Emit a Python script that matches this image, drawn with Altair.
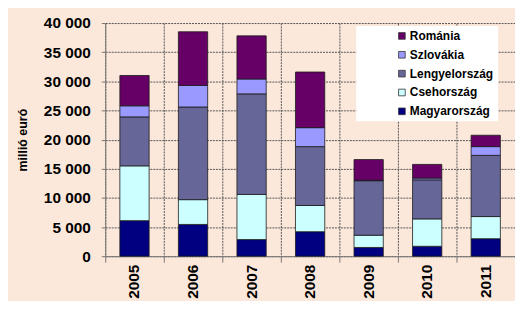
import altair as alt
import pandas as pd

years = ["2005", "2006", "2007", "2008", "2009", "2010", "2011"]
countries = ["Magyarország", "Csehország", "Lengyelország", "Szlovákia", "Románia"]
magyar = [6100, 5450, 2850, 4200, 1500, 1700, 3000]
cseh = [9400, 4250, 7750, 4500, 2100, 4700, 3800]
lengyel = [8400, 15900, 17250, 10100, 9350, 6700, 10500]
szlovak = [1900, 3700, 2550, 3250, 80, 300, 1500]
roman = [5200, 9200, 7400, 9550, 3550, 2350, 1950]
colors = ["#000080", "#CCFFFF", "#666699", "#9999FF", "#660066"]
y_ticks = [0, 5000, 10000, 15000, 20000, 25000, 30000, 35000, 40000]

series = [magyar, cseh, lengyel, szlovak, roman]
rows = []
for ci, (c, vals) in enumerate(zip(countries, series)):
    for y, v in zip(years, vals):
        rows.append({"year": y, "country": c, "value": v, "rank": ci})
df = pd.DataFrame(rows)

legend_order = countries[::-1]
legend_colors = colors[::-1]

FONT = "Liberation Sans"
BG = "#FCE8DA"

chart = alt.Chart(df).mark_bar(stroke="#1a1a1a", strokeWidth=0.8, width={"band": 0.5}).encode(
    x=alt.X("year:N", sort=years,
            scale=alt.Scale(paddingInner=0, paddingOuter=0),
            axis=alt.Axis(title=None, labelAngle=270, labelFontSize=15.5, labelFontWeight="bold",
                          labelColor="black", labelFont=FONT, bandPosition=0, labelOffset=0,
                          grid=True, gridDash=[2, 1], gridColor="#555", gridWidth=1,
                          ticks=True, tickSize=6, tickColor="#777", domainColor="#777",
                          labelPadding=2)),
    y=alt.Y("value:Q", stack="zero",
            scale=alt.Scale(domain=[0, 40000], nice=False),
            axis=alt.Axis(values=y_ticks, title="millió euró", titleFontSize=12.5,
                          titleFontWeight="bold", titleFont=FONT, titleColor="black",
                          titleAngle=270, titleX=-83, titleY=117.5, titleAlign="center",
                          titleBaseline="middle",
                          labelExpr="replace(format(datum.value, ','), regexp(',', 'g'), ' ')",
                          labelFontSize=15.5, labelFontWeight="bold", labelColor="black",
                          labelFont=FONT, labelPadding=11, tickSize=4, tickColor="#777",
                          domainColor="#777", gridDash=[2, 1], gridColor="#555", gridWidth=1)),
    color=alt.Color("country:N",
                    scale=alt.Scale(domain=legend_order, range=legend_colors),
                    legend=alt.Legend(title=None, orient="none", legendX=253, legendY=3,
                                      fillColor="white", padding=4, symbolOffset=36,
                                      symbolType="square", symbolSize=45,
                                      symbolStrokeColor="#333", symbolStrokeWidth=0.8,
                                      labelFontSize=12, labelFontWeight="bold",
                                      labelFont=FONT, labelColor="black", rowPadding=7,
                                      labelOffset=2,
                                      labelExpr="datum.label + '\u00a0\u00a0\u00a0\u00a0\u00a0\u00a0'")),
    order=alt.Order("rank:Q", sort="ascending"),
).properties(
    width=413, height=235,
    autosize=alt.AutoSizeParams(type="none"),
    padding={"left": 98, "top": 14, "right": 0, "bottom": 44},
    background=BG,
).configure_view(stroke=None)

chart.save("out.html", embed_options={"renderer": "svg", "actions": False})
